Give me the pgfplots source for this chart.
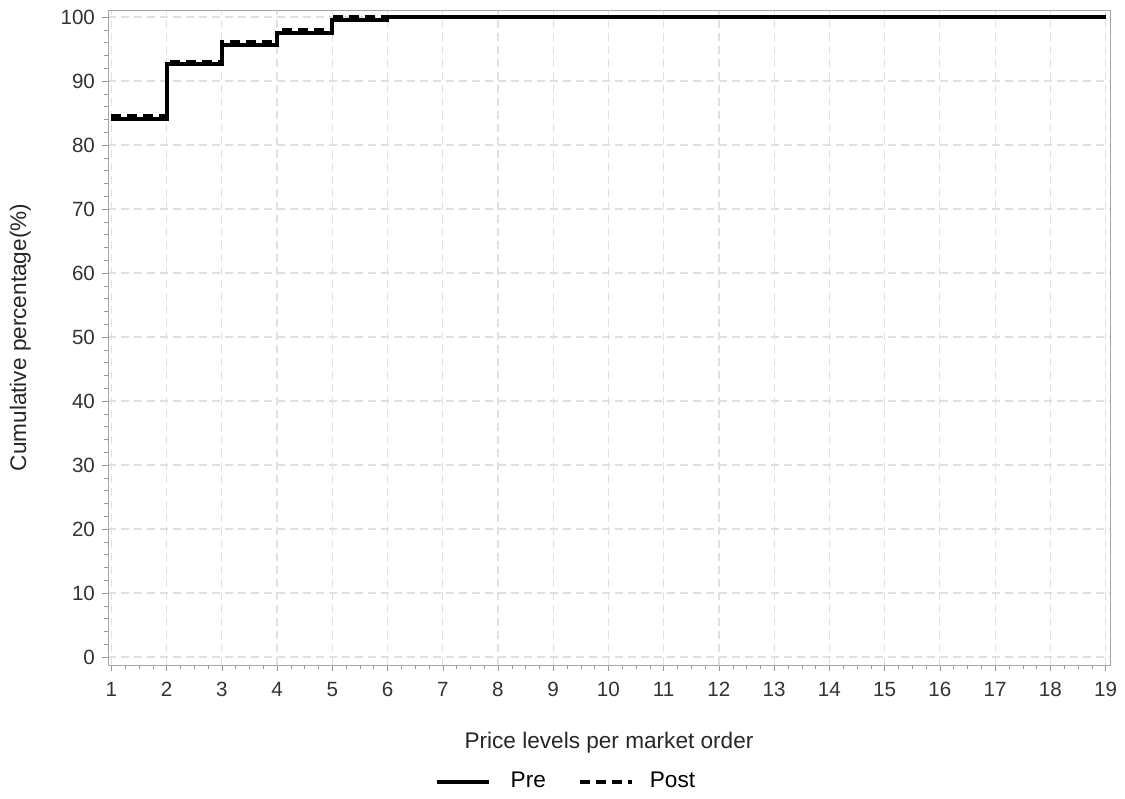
\documentclass[border=0pt]{standalone}
\usepackage{pgfplots}
\pgfplotsset{compat=1.18}
\usepackage{fontspec}
\setmainfont{Liberation Sans}
\begin{document}
\begin{tikzpicture}
\begin{axis}[
  scale only axis,
  width=501pt, height=327.5pt,
  xmin=0.94, xmax=19.08,
  ymin=-1.25, ymax=101.1,
  xtick={1,...,19},
  ytick={0,10,...,100},
  minor x tick num=3,
  minor y tick num=4,
  tick align=outside,
  major tick length=3pt,
  minor tick length=2pt,
  tick style={color=gray!80},
  axis line style={color=gray!70},
  xtick pos=bottom, ytick pos=left,
  grid=major,
  major grid style={color=black!12, dash pattern=on 4pt off 2.5pt, line width=0.6pt},
  tick label style={font=\fontsize{10.3}{12}\selectfont, color=black!80},
  xticklabel style={text height=7.5pt, text depth=0pt, yshift=-1.5pt},
  /pgf/number format/assume math mode=true,
  xlabel={Price levels per market order},
  ylabel={Cumulative percentage(\%)},
  label style={font=\fontsize{11.3}{13}\selectfont, color=black!85},
  xlabel style={yshift=-11pt},
  ylabel style={yshift=8pt},
  legend style={at={(0.458,-0.151)}, anchor=north, draw=none, legend columns=2,
    font=\fontsize{11.3}{13}\selectfont,
    /tikz/every odd column/.append style={column sep=0pt},
    /tikz/every even column/.append style={column sep=14pt},
    nodes={inner sep=2pt}},
  legend image code/.code={\draw[#1] (0pt,0pt) -- (26pt,0pt);},
  legend cell align=left,
]
\addplot[const plot, line width=2pt, black] coordinates {
  (1,84.0) (2,92.7) (3,95.7) (4,97.5) (5,99.6) (6,100) (19,100)
};
\addlegendentry{\hspace{8pt}Pre}
\addplot[const plot, line width=2pt, black, dash pattern=on 5pt off 3pt] coordinates {
  (1,84.6) (2,93.0) (3,96.1) (4,97.9) (5,99.95) (6,100) (19,100)
};
\addlegendentry{\hspace{6pt}Post}
\coordinate (SW) at (rel axis cs:0,0);
\coordinate (NE) at (rel axis cs:1,1);
\end{axis}
\path[use as bounding box] ([xshift=-54pt,yshift=-64.5pt]SW) rectangle ([xshift=7.5pt,yshift=5pt]NE);
\end{tikzpicture}
\end{document}
